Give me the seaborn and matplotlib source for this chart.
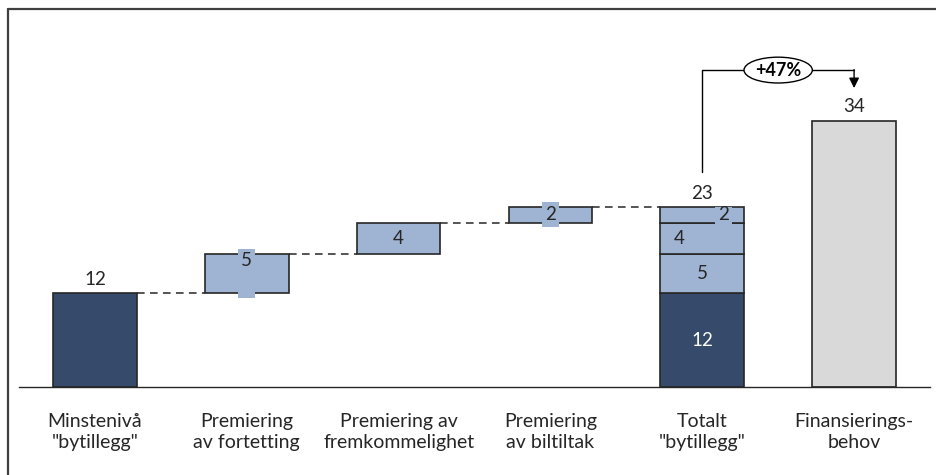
import numpy as np
import pandas as pd
import matplotlib
matplotlib.use("Agg")
import matplotlib.pyplot as plt
from matplotlib.patches import Ellipse, Rectangle
from matplotlib.lines import Line2D
import seaborn as sns

# --- data -------------------------------------------------------------
categories = ['Minstenivå\n"bytillegg"', "Premiering\nav fortetting",
              "Premiering av\nfremkommelighet", "Premiering\nav biltiltak",
              'Totalt\n"bytillegg"', "Finansierings-\nbehov"]
base_value = 12
increments = [5, 4, 2]
need_value = 34
growth_label = "+47%"

# --- style ------------------------------------------------------------
DARK = "#364b6b"
LIGHT = "#9fb3d3"
GREY = "#d9d9d9"
EDGE = "#262626"
TEXT = "#262626"
BAR_W = 0.55

sns.set_theme(style="white")
plt.rcParams["font.family"] = ["Lato", "DejaVu Sans"]

steps = [base_value] + increments
tops = np.cumsum(steps)
bottoms = tops - np.array(steps)
total_value = int(tops[-1])

# segments: category, bottom, height, fill, label colour, label dx, label position
rows = [(0, 0, base_value, DARK, None, 0.0, 0.5)]
frac = [0.84, 0.5, 0.5]
for i, (b, h) in enumerate(zip(bottoms[1:], increments), start=1):
    rows.append((i, b, h, LIGHT, TEXT, 0.0, frac[i - 1]))
stack_dx = [0.0, 0.0, -0.15, 0.14]
for k, (b, h) in enumerate(zip(bottoms, steps)):
    rows.append((4, b, h, DARK if k == 0 else LIGHT,
                 "white" if k == 0 else TEXT, stack_dx[k], 0.5))
rows.append((5, 0, need_value, GREY, None, 0.0, 0.5))
seg = pd.DataFrame(rows, columns=["pos", "bottom", "height", "fill", "lcol", "dx", "frac"])
seg["cat"] = [categories[p] for p in seg["pos"]]

fig = plt.figure(figsize=(9.37, 4.75), dpi=100)
ax = fig.add_axes([19 / 937, 88 / 475, 911 / 937, 367 / 475])

for _, r in seg.iterrows():
    sns.barplot(x=[r["cat"]], y=[r["height"]], order=categories, bottom=r["bottom"],
                color=r["fill"], saturation=1, width=BAR_W, edgecolor=EDGE,
                linewidth=1.2, ax=ax, zorder=2)

ax.set_xlim(-0.5, 5.5)
ax.set_ylim(0, 46.9)

# label backgrounds that overlap the edges of the small increments
pad = 0.6
box_w = 0.11
for _, r in seg.iterrows():
    if r["fill"] == LIGHT and (r["height"] != 4) and not (r["pos"] == 4 and r["height"] == 5):
        cx = r["pos"] + r["dx"]
        ax.add_patch(Rectangle((cx - box_w / 2, r["bottom"] - pad), box_w,
                               r["height"] + 2 * pad if r["pos"] != 4 else r["height"] + pad,
                               facecolor=LIGHT, edgecolor="none", zorder=3))

# labels inside the bars
for _, r in seg.iterrows():
    if r["lcol"] is None:
        continue
    ax.text(r["pos"] + r["dx"], r["bottom"] + r["height"] * r["frac"], f"{int(r['height'])}",
            ha="center", va="center", fontsize=13.5, color=r["lcol"], zorder=4)

# labels above the bars
for pos, val in [(0, base_value), (4, total_value), (5, need_value)]:
    ax.text(pos, val + 0.7, f"{val}", ha="center", va="bottom", fontsize=13.5, color=TEXT, zorder=4)

# dashed connectors
for i in range(4):
    y = tops[i]
    ax.plot([i + BAR_W / 2, i + 1 - BAR_W / 2], [y, y], color=EDGE, lw=1.1,
            ls=(0, (5, 3.5)), zorder=1)

# bracket with growth indicator
yb = 40.5
ax.plot([4, 4, 5], [27.5, yb, yb], color="black", lw=1.0, zorder=4, clip_on=False)
ax.annotate("", xy=(5, 38.2), xytext=(5, yb + 0.07),
            arrowprops=dict(arrowstyle="-|>,head_length=0.5,head_width=0.25",
                            color="black", lw=1.0, shrinkA=0, shrinkB=0))
ax.add_patch(Ellipse((4.5, yb), 0.45, 3.3, facecolor="white", edgecolor="black",
                     lw=1.0, zorder=5))
ax.text(4.5, yb, growth_label, ha="center", va="center", fontsize=13,
        fontweight="bold", color="black", zorder=6)

# axes
for s in ["top", "left", "right"]:
    ax.spines[s].set_visible(False)
ax.spines["bottom"].set_color(EDGE)
ax.spines["bottom"].set_linewidth(1.0)
ax.set_yticks([])
ax.set_xlabel("")
ax.set_ylabel("")
ax.tick_params(axis="x", length=0, pad=19, labelsize=14, labelcolor=TEXT)
for lab in ax.get_xticklabels():
    lab.set_linespacing(1.25)

# outer frame
fig.add_artist(Line2D([8 / 937, 1], [1 - 9 / 475, 1 - 9 / 475], color="#404040", lw=1.6))
fig.add_artist(Line2D([8 / 937, 8 / 937], [0, 1 - 9 / 475], color="#404040", lw=1.6))

fig.savefig("out.png", dpi=100)
